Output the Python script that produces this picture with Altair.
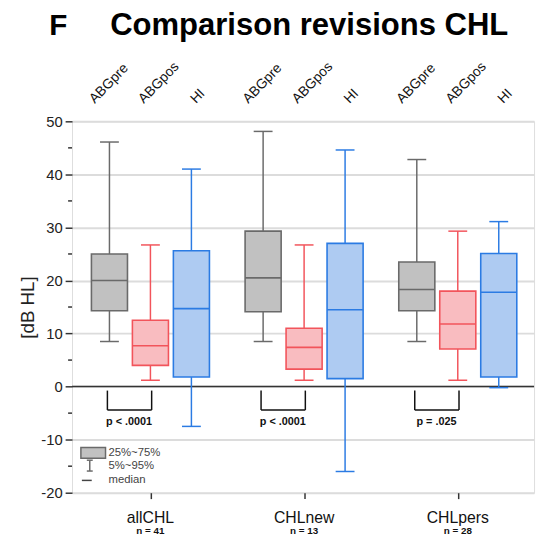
import altair as alt
import pandas as pd

# ---------------- data ----------------
groups = ["allCHL", "CHLnew", "CHLpers"]
n_labels = ["n = 41", "n = 13", "n = 28"]
measures = ["ABGpre", "ABGpos", "HI"]
p05 = [[8.5, 1.2, -7.5], [8.5, 1.2, -16.0], [8.5, 1.2, -0.2]]
q25 = [[14.3, 4.0, 1.8], [14.1, 3.3, 1.5], [14.3, 7.1, 1.8]]
med = [[20.0, 7.7, 14.7], [20.5, 7.4, 14.5], [18.3, 11.8, 17.8]]
q75 = [[25.0, 12.5, 25.6], [29.3, 11.0, 27.0], [23.5, 18.0, 25.1]]
p95 = [[46.1, 26.7, 41.0], [48.1, 26.7, 44.6], [42.8, 29.3, 31.1]]
p_values = ["p < .0001", "p < .0001", "p = .025"]
y_ticks = [-20, -10, 0, 10, 20, 30, 40, 50]
y_minor = [-15, -5, 5, 15, 25, 35, 45]
legend_labels = ["25%~75%", "5%~95%", "median"]

# ---------------- layout / style ----------------
W, H = 469, 377
FIRST, STEP = 0.913, 3.75
BOX_HALF, CAP_HALF = 0.44, 0.23
LABEL_SHIFT = [-0.36, -0.16, 0.11]
fills = ["#c1c1c1", "#f9bcc0", "#aecbf2"]
strokes = ["#6a6a6a", "#f2545b", "#2b7be3"]
FONT = "Liberation Sans"

rows = []
for g in range(3):
    for s in range(3):
        x = FIRST + STEP * g + s
        rows.append(dict(group=groups[g], measure=measures[s], x=x,
                         xl=x - BOX_HALF, xr=x + BOX_HALF,
                         cl=x - CAP_HALF, cr=x + CAP_HALF,
                         tx=x + LABEL_SHIFT[s],
                         p05=p05[g][s], q25=q25[g][s], med=med[g][s],
                         q75=q75[g][s], p95=p95[g][s]))
df = pd.DataFrame(rows)

grp = pd.DataFrame(dict(group=groups, n=n_labels, p=p_values,
                        xa=[FIRST + STEP * g - 0.05 for g in range(3)],
                        xb=[FIRST + STEP * g + 1.03 for g in range(3)],
                        xc=[FIRST + STEP * g + 1 for g in range(3)],
                        xm=[FIRST + STEP * g + 0.48 for g in range(3)]))
grp["ytop"] = -0.75
grp["ybot"] = -4.4
grp["ytxt"] = -6.7

xscale = alt.Scale(domain=[0, W / 41.6], nice=False, zero=False)
yscale = alt.Scale(domain=[-20, 50], nice=False, zero=False)
xaxis = alt.Axis(values=list(grp["xc"]), labels=False, ticks=True, tickSize=6,
                 tickColor="#333", tickWidth=1.5, domain=False, grid=False, title=None)
yaxis = alt.Axis(values=y_ticks, title="[dB HL]", titleFontSize=19,
                 titleFontWeight="normal", titleColor="#222", titleFont=FONT,
                 titlePadding=3, labelFont=FONT, labelFontSize=15,
                 labelExpr="'' + datum.value",
                 labelColor="#222", labelPadding=3, tickSize=7, tickColor="#333",
                 tickWidth=1.5, domain=False, grid=True, gridColor="#dcdcdc",
                 gridWidth=2)


def X(f):
    return alt.X(f"{f}:Q", scale=xscale, axis=xaxis)


def Y(f):
    return alt.Y(f"{f}:Q", scale=yscale, axis=yaxis)


scol = alt.Color("measure:N", scale=alt.Scale(domain=measures, range=strokes), legend=None)
sstroke = alt.Stroke("measure:N", scale=alt.Scale(domain=measures, range=strokes), legend=None)
fcol = alt.Fill("measure:N", scale=alt.Scale(domain=measures, range=fills), legend=None)

base = alt.Chart(df)

zero = alt.Chart(pd.DataFrame({"v": [0]})).mark_rule(color="#333", strokeWidth=1.5).encode(
    y=Y("v"))

whisk_lo = base.mark_rule(strokeWidth=1.5).encode(x=X("x"), y=Y("p05"), y2="q25", color=scol)
whisk_hi = base.mark_rule(strokeWidth=1.5).encode(x=X("x"), y=Y("q75"), y2="p95", color=scol)
cap_lo = base.mark_rule(strokeWidth=1.5).encode(x=X("cl"), x2="cr", y=Y("p05"), color=scol)
cap_hi = base.mark_rule(strokeWidth=1.5).encode(x=X("cl"), x2="cr", y=Y("p95"), color=scol)
boxes = base.mark_rect(strokeWidth=1.6).encode(x=X("xl"), x2="xr", y=Y("q25"), y2="q75",
                                               fill=fcol, stroke=sstroke)
medians = base.mark_rule(strokeWidth=1.6).encode(x=X("xl"), x2="xr", y=Y("med"), color=scol)

top_labels = base.mark_text(angle=314, align="left", baseline="alphabetic", font=FONT,
                            fontSize=14, color="#111").encode(
    x=X("tx"), y=alt.value(-17.5), text="measure:N")

gb = alt.Chart(grp)
br_l = gb.mark_rule(color="#111", strokeWidth=1.5).encode(x=X("xa"), y=Y("ytop"), y2="ybot")
br_r = gb.mark_rule(color="#111", strokeWidth=1.5).encode(x=X("xb"), y=Y("ytop"), y2="ybot")
br_b = gb.mark_rule(color="#111", strokeWidth=1.5).encode(x=X("xa"), x2="xb", y=Y("ybot"))
p_txt = gb.mark_text(font=FONT, fontSize=11, fontWeight="bold", color="#111",
                     baseline="middle").encode(x=X("xm"), y=Y("ytxt"), text="p:N")
g_txt = gb.mark_text(font=FONT, fontSize=16, color="#111", baseline="alphabetic").encode(
    x=X("xc"), y=alt.value(408), text="group:N")
n_txt = gb.mark_text(font=FONT, fontSize=10, fontWeight="bold", color="#111",
                     baseline="alphabetic").encode(x=X("xc"), y=alt.value(419), text="n:N")

minor = alt.Chart(pd.DataFrame({"v": y_minor})).mark_rule(color="#333", strokeWidth=1.5).encode(
    x=alt.value(-4), x2=alt.value(0), y=Y("v"))

title_f = alt.Chart(pd.DataFrame({"t": ["F"]})).mark_text(
    font=FONT, fontSize=30, fontWeight="bold", align="left", baseline="alphabetic",
    color="#000").encode(x=alt.value(-23), y=alt.value(-88), text="t:N")
title_m = alt.Chart(pd.DataFrame({"t": ["Comparison revisions CHL"]})).mark_text(
    font=FONT, fontSize=31.5, fontWeight="bold", align="left", baseline="alphabetic",
    color="#000").encode(x=alt.value(38.7), y=alt.value(-88), text="t:N")

# legend (annotation in pixel space)
one = pd.DataFrame({"k": [0]})
lg_box = alt.Chart(one).mark_rect(
    fill="#c1c1c1", stroke="#6a6a6a", strokeWidth=1.5).encode(
    x=alt.value(9), x2=alt.value(34), y=alt.value(331), y2=alt.value(342))
lg_w = alt.Chart(one).mark_rule(color="#6a6a6a", strokeWidth=1.5).encode(
    x=alt.value(18), y=alt.value(344), y2=alt.value(355))
lg_c1 = alt.Chart(one).mark_rule(color="#6a6a6a", strokeWidth=1.5).encode(
    x=alt.value(15), x2=alt.value(21), y=alt.value(344))
lg_c2 = alt.Chart(one).mark_rule(color="#6a6a6a", strokeWidth=1.5).encode(
    x=alt.value(15), x2=alt.value(21), y=alt.value(355))
lg_m = alt.Chart(one).mark_rule(color="#444", strokeWidth=1.5).encode(
    x=alt.value(10), x2=alt.value(20), y=alt.value(364.5))
lg_txt = alt.Chart(pd.DataFrame({"t": legend_labels, "yy": [336.5, 350, 364]})).mark_text(
    font=FONT, fontSize=11.5, color="#444", align="left", baseline="middle").encode(
    x=alt.value(37), y=alt.Y("yy:Q", scale=None), text="t:N")

chart = alt.layer(
    zero, whisk_lo, whisk_hi, cap_lo, cap_hi, boxes, medians,
    br_l, br_r, br_b, p_txt, g_txt, n_txt, top_labels, minor,
    title_f, title_m, lg_box, lg_w, lg_c1, lg_c2, lg_m, lg_txt
).properties(
    width=W, height=H,
    autosize=alt.AutoSizeParams(type="none"),
    padding={"left": 65, "top": 111, "right": 3, "bottom": 47},
).configure_view(stroke="#333", strokeWidth=1.5).configure(background="white")

chart.save("out.html", embed_options={"renderer": "svg", "actions": False})
